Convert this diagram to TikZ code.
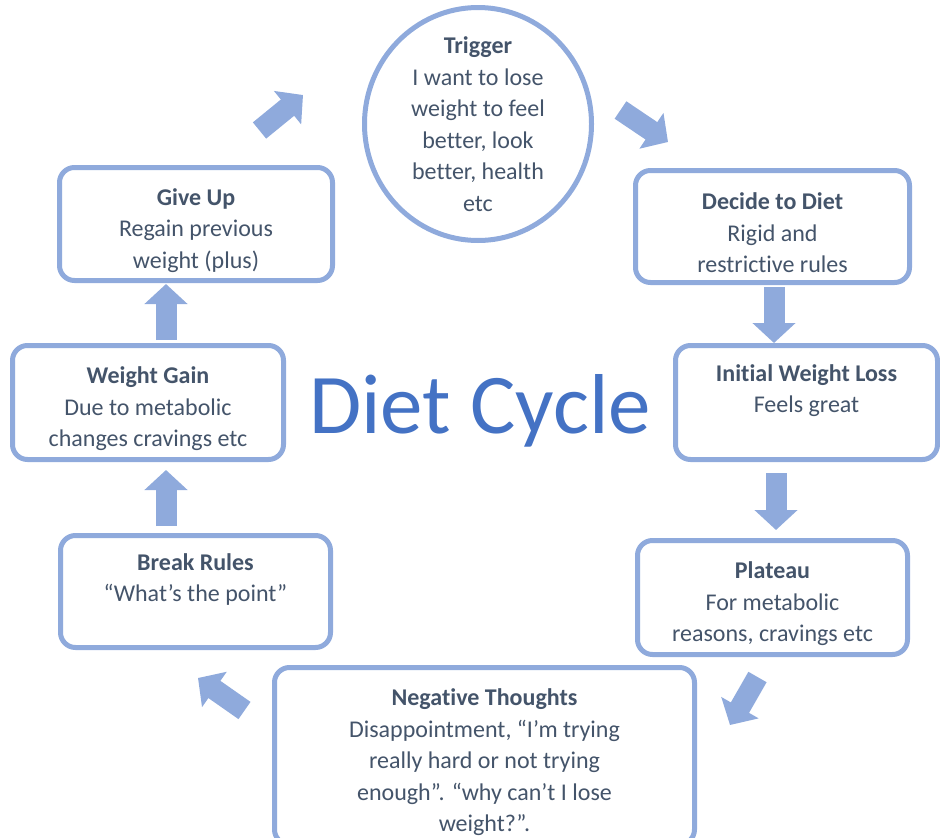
\documentclass[tikz,border=0pt]{standalone}
\usepackage{fontspec}
\setmainfont{Carlito}[Ligatures=NoCommon]
\usepackage{xcolor,tikz}
\usetikzlibrary{arrows.meta,positioning,shapes.geometric}
\definecolor{boxblue}{HTML}{8FAADC}
\definecolor{txtgray}{HTML}{44546A}
\definecolor{titleblue}{HTML}{4472C4}
\newcommand{\stagehead}[1]{\rule{0pt}{30pt}\textbf{#1}}
\tikzset{
  stage/.style={draw=boxblue,line width=5pt,rounded corners=15pt,fill=white,text=txtgray,
    align=center,inner sep=0pt,font=\fontsize{24}{31.5}\selectfont},
  flow/.style={draw=boxblue,line width=21pt,-{Triangle[width=42pt,length=20pt]}}
}

\begin{document}
\begin{tikzpicture}[x=1pt,y=-1pt]
\useasboundingbox (0,0) rectangle (940,838);
% cycle stages
\node[draw=boxblue,line width=5pt,ellipse,minimum width=227pt,minimum height=233pt] (trigger) at (478,124) {};
\node[align=center,text=txtgray,font=\fontsize{24}{31.5}\selectfont] (triggertxt) at (trigger) {\textbf{Trigger}\\I want to lose\\weight to feel\\better, look\\better, health\\etc};
\node[stage,minimum width=274pt,minimum height=112pt] (decide) at (772.5,226.5) {\stagehead{Decide to Diet}\\Rigid and\\restrictive rules};
\node[stage,minimum width=262pt,minimum height=114pt] (initial) at (806.5,402.5) {\stagehead{Initial Weight Loss}\\Feels great\\\strut};
\node[stage,minimum width=270pt,minimum height=114pt] (plateau) at (772.5,597.5) {\stagehead{Plateau}\\For metabolic\\reasons, cravings etc};
\node[stage,minimum width=420pt,minimum height=177pt] (negative) at (484.5,756) {\stagehead{Negative Thoughts}\\Disappointment, “I’m trying\\really hard or not trying\\enough”. “why can’t I lose\\weight?”.};
\node[stage,minimum width=270pt,minimum height=112pt] (breakrules) at (195.5,591.5) {\stagehead{Break Rules}\\“What’s the point”\\\strut};
\node[stage,minimum width=271pt,minimum height=114pt] (weightgain) at (148,402.5) {\stagehead{Weight Gain}\\Due to metabolic\\changes cravings etc};
\node[stage,minimum width=273pt,minimum height=113pt] (giveup) at (196,224) {\stagehead{Give Up}\\Regain previous\\weight (plus)};
\node[text=titleblue,font=\fontsize{85}{85}\selectfont,anchor=base] (title) at (480,433) {Diet Cycle};
% arrow ends, in the gaps between stages
\coordinate (a1) at (259.5,130.5); \coordinate (b1) at (303,95);
\coordinate (a2) at (620.5,110);   \coordinate (b2) at (668,142);
\coordinate (a3) at (774,287);     \coordinate (b3) at (774,343);
\coordinate (a4) at (776,473);     \coordinate (b4) at (776,530);
\coordinate (a5) at (757.5,677);   \coordinate (b5) at (730,725);
\coordinate (a6) at (244.5,710.5); \coordinate (b6) at (198,678);
\coordinate (a7) at (166,526);     \coordinate (b7) at (166,470);
\coordinate (a8) at (166,340);     \coordinate (b8) at (166,284);
\foreach \i in {1,...,8} \draw[flow] (a\i) -- (b\i);
\end{tikzpicture}
\end{document}
